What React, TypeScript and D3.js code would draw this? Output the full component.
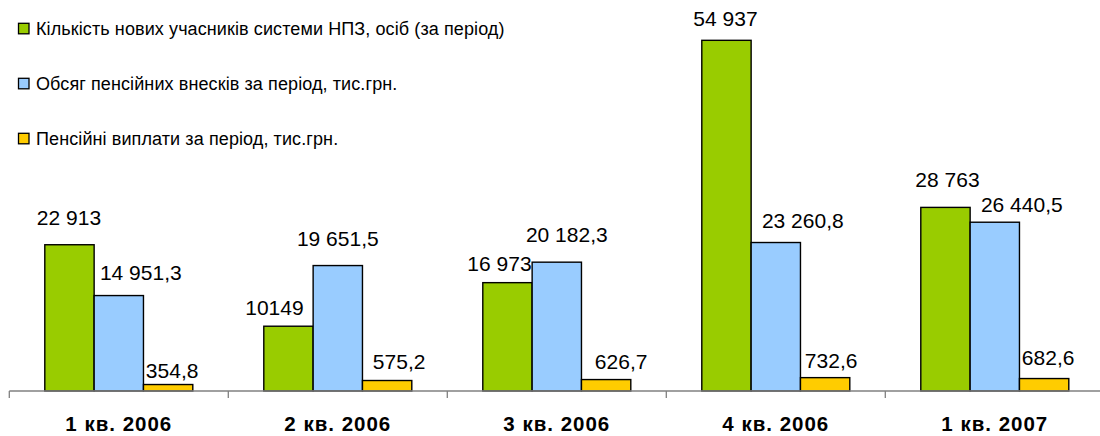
import React from "react";
import * as d3 from "d3";

const categories = ["1 кв. 2006", "2 кв. 2006", "3 кв. 2006", "4 кв. 2006", "1 кв. 2007"];
const seriesNames = [
  "Кількість нових учасників системи НПЗ, осіб (за період)",
  "Обсяг пенсійних внесків за період, тис.грн.",
  "Пенсійні виплати за період, тис.грн.",
];
const participants = [22913, 10149, 16973, 54937, 28763];
const contributions = [14951.3, 19651.5, 20182.3, 23260.8, 26440.5];
const payments = [354.8, 575.2, 626.7, 732.6, 682.6];
const participantLabels = ["22 913", "10149", "16 973", "54 937", "28 763"];
const contributionLabels = ["14 951,3", "19 651,5", "20 182,3", "23 260,8", "26 440,5"];
const paymentLabels = ["354,8", "575,2", "626,7", "732,6", "682,6"];
const colors = ["#99CC00", "#99CCFF", "#FFCC00"];

const W = 1100;
const H = 436;
const FONT = "'Liberation Sans', Arial, sans-serif";

// label placement nudges (dx, gap above bar) per series, per category
const LABEL_NUDGE: [number, number][][] = [
  [[-0.5, 20], [-14, 11], [-8, 12], [-1, 14], [2, 20]],
  [[22, 16], [0, 20], [10, 20], [27, 15], [27, 10]],
  [[4, 7], [12, 11.5], [15, 11], [6, 10], [4, 14]],
];

export default function App() {
  const baseY = 391;
  const x0 = d3.scaleBand<string>().domain(categories).range([9.3, 1104.3]).padding(0);
  const x1 = d3.scaleBand<number>().domain([0, 1, 2]).range([35.5, 183.5]).padding(0);
  const yMain = d3.scaleLinear().domain([0, 60000]).range([baseY, 8]);
  const yPay = d3.scaleLinear().domain([0, 21000]).range([baseY, 8]);

  const series = [
    { values: participants, labels: participantLabels, y: yMain },
    { values: contributions, labels: contributionLabels, y: yMain },
    { values: payments, labels: paymentLabels, y: yPay },
  ];

  const legendY = d3.scaleLinear().domain([0, 2]).range([23.3, 133.3]);

  return (
    <div style={{ position: "absolute", left: 0, top: 0 }}>
      <svg width={W} height={H} style={{ display: "block", background: "#fff" }}>
        {series.map((s, si) =>
          categories.map((c, ci) => {
            const x = (x0(c) as number) + (x1(si) as number);
            const top = s.y(s.values[ci]);
            return (
              <rect
                key={`b${si}-${ci}`}
                x={x}
                y={top}
                width={x1.bandwidth()}
                height={baseY - top}
                fill={colors[si]}
                stroke="#000"
                strokeWidth={1.4}
              />
            );
          })
        )}
        <line x1={9.3} x2={W} y1={baseY} y2={baseY} stroke="#808080" strokeWidth={1.3} />
        {categories.map((c, ci) => (
          <line
            key={`t${ci}`}
            x1={x0(c) as number}
            x2={x0(c) as number}
            y1={baseY}
            y2={baseY + 7}
            stroke="#808080"
            strokeWidth={1.3}
          />
        ))}
        {categories.map((c) => (
          <text
            key={`c${c}`}
            x={(x0(c) as number) + x0.bandwidth() / 2}
            y={430.7}
            textAnchor="middle"
            fontFamily={FONT}
            fontWeight="bold"
            fontSize={20.5}
            letterSpacing={1}
            fill="#000"
          >
            {c}
          </text>
        ))}
        {series.map((s, si) =>
          categories.map((c, ci) => {
            const [dx, gap] = LABEL_NUDGE[si][ci];
            const x = (x0(c) as number) + (x1(si) as number) + x1.bandwidth() / 2 + dx;
            const top = s.y(s.values[ci]);
            return (
              <text
                key={`l${si}-${ci}`}
                x={x}
                y={top - gap}
                textAnchor="middle"
                fontFamily={FONT}
                fontSize={21}
                fill="#000"
              >
                {s.labels[ci]}
              </text>
            );
          })
        )}
        {seriesNames.map((n, i) => (
          <g key={`lg${i}`}>
            <rect x={18.5} y={legendY(i)} width={10.5} height={10.5} fill={colors[i]} stroke="#000" strokeWidth={1.3} />
            <text x={36} y={legendY(i) + 11.8} fontFamily={FONT} fontSize={18} letterSpacing={0.1} fill="#000">
              {n}
            </text>
          </g>
        ))}
      </svg>
    </div>
  );
}
